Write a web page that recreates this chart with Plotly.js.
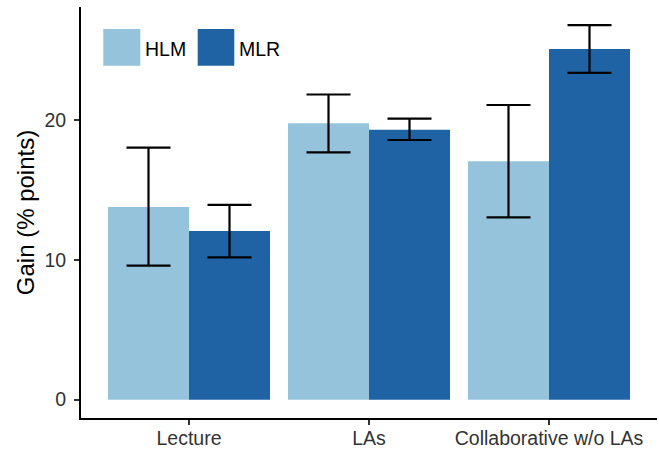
<!DOCTYPE html>
<html>
<head>
<meta charset="utf-8">
<script src="https://cdn.plot.ly/plotly-3.0.1.min.js"></script>
<style>html,body{margin:0;padding:0;background:#fff;}#chart{width:659px;height:451px;}</style>
</head>
<body>
<div id="chart"></div>
<script>
const categories = ["Lecture", "LAs", "Collaborative w/o LAs"];
const seriesNames = ["HLM", "MLR"];
const hlmGain = [13.76, 19.74, 17.03];
const hlmUpper = [18.0, 21.8, 21.05];
const hlmLower = [9.57, 17.67, 13.02];
const mlrGain = [12.05, 19.29, 25.05];
const mlrUpper = [13.91, 20.07, 26.76];
const mlrLower = [10.17, 18.55, 23.34];
const yTicks = [0, 10, 20];

const colors = ["#96c3dc", "#1f63a5"];
const FONT = "Liberation Sans, Arial, Helvetica, sans-serif";

function makeTrace(name, vals, up, lo, color) {
  return {
    type: "bar", name: name, x: categories, y: vals,
    marker: {color: color, line: {width: 0}},
    error_y: {type: "data", symmetric: false,
      array: up.map((u, i) => u - vals[i]),
      arrayminus: lo.map((l, i) => vals[i] - l),
      color: "#000", thickness: 2.2, width: 22},
    hoverinfo: "x+y"
  };
}

const data = [
  makeTrace(seriesNames[0], hlmGain, hlmUpper, hlmLower, colors[0]),
  makeTrace(seriesNames[1], mlrGain, mlrUpper, mlrLower, colors[1])
];

const layout = {
  width: 659, height: 451,
  margin: {l: 81, r: 2, t: 7, b: 33, pad: 0},
  paper_bgcolor: "#fff", plot_bgcolor: "#fff",
  barmode: "group", bargap: 0.1, bargroupgap: 0,
  showlegend: false,
  font: {family: FONT, color: "#000"},
  xaxis: {
    type: "category", range: [-0.6, 2.6],
    showline: true, linecolor: "#000", linewidth: 2,
    ticks: "outside", ticklen: 5, tickwidth: 2, tickcolor: "#333",
    tickfont: {size: 19.5, color: "#333", family: FONT},
    ticklabelstandoff: -3,
    showgrid: false, zeroline: false, fixedrange: true
  },
  yaxis: {
    range: [-1.31, 28.05],
    tickvals: yTicks, ticktext: yTicks.map(String),
    showline: true, linecolor: "#000", linewidth: 2,
    ticks: "outside", ticklen: 5, tickwidth: 2, tickcolor: "#333",
    tickfont: {size: 19.5, color: "#333", family: FONT},
    ticklabelstandoff: 4,
    showgrid: false, zeroline: false, fixedrange: true,
    title: {text: "Gain (% points)", font: {size: 24, color: "#000", family: FONT}, standoff: 3}
  },
  shapes: [
    {type: "rect", xref: "paper", yref: "paper", x0: 0.0387, x1: 0.1030, y0: 0.857, y1: 0.9465, fillcolor: colors[0], line: {width: 0}},
    {type: "rect", xref: "paper", yref: "paper", x0: 0.2026, x1: 0.2661, y0: 0.857, y1: 0.9465, fillcolor: colors[1], line: {width: 0}}
  ],
  annotations: [
    {xref: "paper", yref: "paper", x: 0.1076, y: 0.898, xanchor: "left", yanchor: "middle", text: seriesNames[0], showarrow: false, font: {size: 19.5, color: "#000", family: FONT}},
    {xref: "paper", yref: "paper", x: 0.270, y: 0.898, xanchor: "left", yanchor: "middle", text: seriesNames[1], showarrow: false, font: {size: 19.5, color: "#000", family: FONT}}
  ]
};

Plotly.newPlot("chart", data, layout, {displayModeBar: false, staticPlot: false});
</script>
</body>
</html>
